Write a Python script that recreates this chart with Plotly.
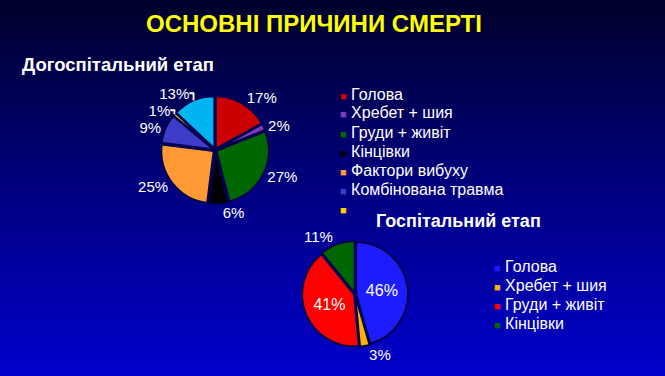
import base64
import plotly.graph_objects as go

# ---- data ----
title_text = "ОСНОВНІ ПРИЧИНИ СМЕРТІ"
subtitle1 = "Догоспітальний етап"
subtitle2 = "Госпітальний етап"

cats1 = ["Голова", "Хребет + шия", "Груди + живіт", "Кінцівки",
         "Фактори вибуху", "Комбінована травма", "Інше", "Невідомо"]
vals1 = [17, 2, 27, 6, 25, 9, 1, 13]
colors1 = ["#cc0000", "#7a3db5", "#006600", "#000000",
           "#ff9933", "#3c3cc8", "#ffcc00", "#00b4f0"]
legend1_names = ["Голова", "Хребет + шия", "Груди + живіт", "Кінцівки",
                 "Фактори вибуху", "Комбінована травма", ""]

cats2 = ["Голова", "Хребет + шия", "Груди + живіт", "Кінцівки"]
vals2 = [46, 3, 41, 11]
colors2 = ["#1c1cff", "#ffb000", "#ff0000", "#006600"]
textpos2 = ["inside", "outside", "inside", "outside"]

# ---- background gradient ----
W, H = 665, 376
svg = ('<svg xmlns="http://www.w3.org/2000/svg" width="665" height="376" '
       'viewBox="0 0 665 376" preserveAspectRatio="none">'
       '<defs><linearGradient id="g" x1="0" y1="0" x2="0" y2="1">'
       '<stop offset="0" stop-color="#00002a"/>'
       '<stop offset="0.5" stop-color="#000080"/>'
       '<stop offset="1" stop-color="#0000cc"/>'
       '</linearGradient></defs>'
       '<rect x="0" y="0" width="665" height="376" fill="url(#g)"/></svg>')
bg_src = "data:image/svg+xml;base64," + base64.b64encode(svg.encode()).decode()

fnt = "Liberation Sans, Arial, sans-serif"

fig = go.Figure()

fig.add_trace(go.Pie(
    labels=cats1, values=vals1, sort=False, direction="clockwise", rotation=0,
    marker=dict(colors=colors1, line=dict(color="#000050", width=2)),
    pull=0.03, texttemplate="%{value}%", textposition="outside",
    textfont=dict(color="white", size=15, family=fnt),
    domain=dict(x=[161 / W, 269 / W], y=[1 - 204 / H, 1 - 96 / H]),
    showlegend=False, hoverinfo="label+value",
))

fig.add_trace(go.Pie(
    labels=cats2, values=vals2, sort=False, direction="clockwise", rotation=0,
    marker=dict(colors=colors2, line=dict(color="#000050", width=2)),
    pull=0.02, texttemplate="%{value}%", textposition=textpos2,
    textfont=dict(color="white", size=15, family=fnt),
    insidetextfont=dict(color="white", size=16, family=fnt),
    domain=dict(x=[302 / W, 408 / W], y=[1 - 347 / H, 1 - 241 / H]),
    showlegend=False, hoverinfo="label+value",
))

annotations = [
    dict(text="<b>" + title_text + "</b>", x=314 / W, y=1 - 24 / H, xref="paper", yref="paper",
         showarrow=False, xanchor="center", yanchor="middle",
         font=dict(color="#ffff00", size=24, family="Liberation Sans Narrow, Arial Narrow, sans-serif")),
    dict(text="<b>" + subtitle1 + "</b>", x=20 / W, y=1 - 64 / H, xref="paper", yref="paper",
         showarrow=False, xanchor="left", yanchor="middle",
         font=dict(color="white", size=18.5, family=fnt)),
    dict(text="<b>" + subtitle2 + "</b>", x=374 / W, y=1 - 221 / H, xref="paper", yref="paper",
         showarrow=False, xanchor="left", yanchor="middle",
         font=dict(color="white", size=18, family=fnt)),
]


def legend_rows(names, cols, x0, y0, dy):
    out = []
    for i, (nm, c) in enumerate(zip(names, cols)):
        txt = '<span style="color:%s;font-size:11px">■</span> %s' % (c, nm)
        out.append(dict(text=txt, x=x0 / W, y=1 - (y0 + i * dy) / H, xref="paper", yref="paper",
                        showarrow=False, xanchor="left", yanchor="middle",
                        font=dict(color="white", size=16, family=fnt)))
    return out


annotations += legend_rows(legend1_names, colors1, 338, 94, 19)
annotations += legend_rows(cats2, colors2, 492, 266, 19)

fig.update_layout(
    width=W, height=H,
    margin=dict(l=0, r=0, t=0, b=0),
    paper_bgcolor="#000080", plot_bgcolor="rgba(0,0,0,0)",
    images=[dict(source=bg_src, xref="paper", yref="paper", x=0, y=1,
                 sizex=1, sizey=1, sizing="stretch", layer="below",
                 xanchor="left", yanchor="top")],
    annotations=annotations,
    showlegend=False,
)

fig.write_html("out.html")
